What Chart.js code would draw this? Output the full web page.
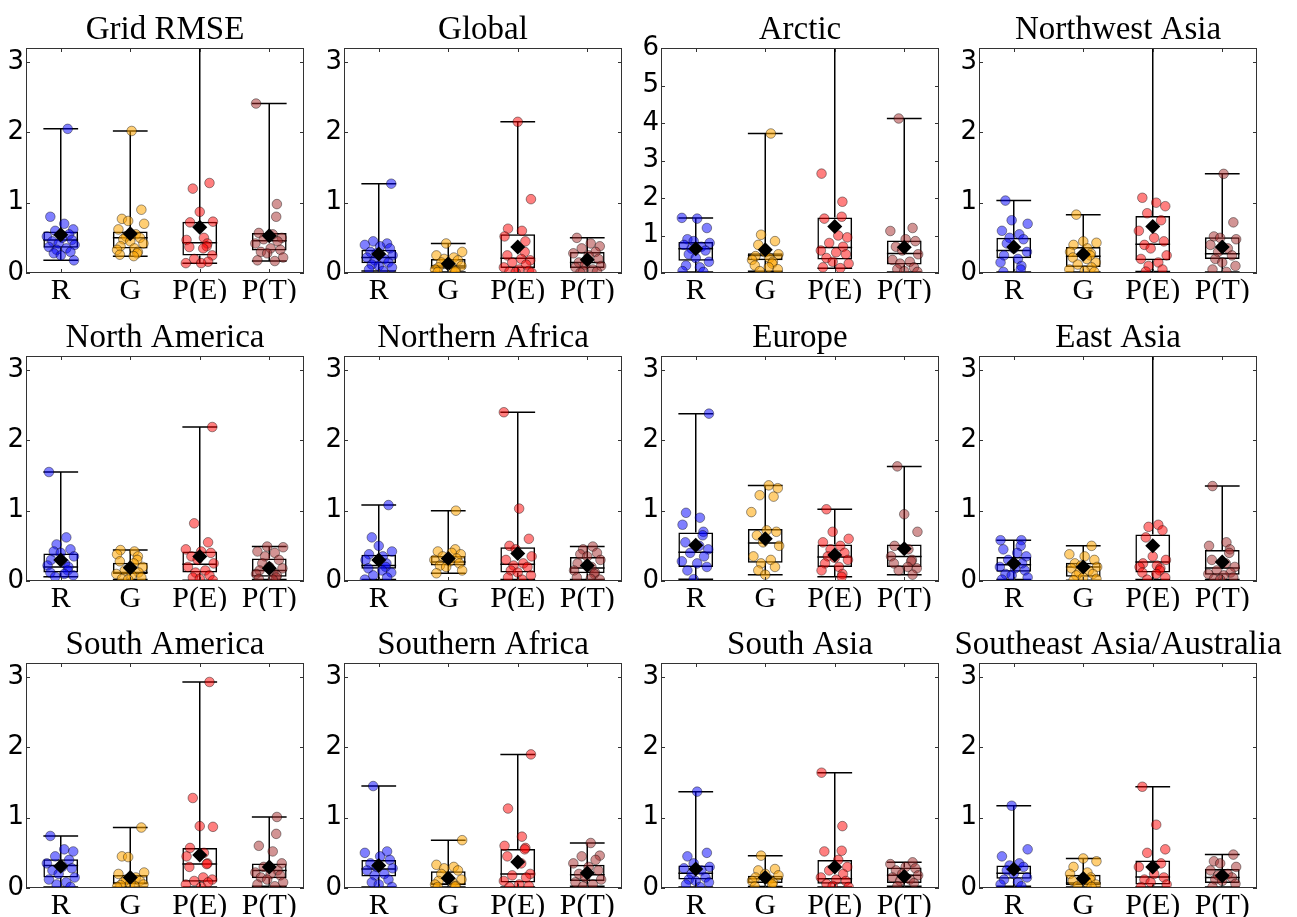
<!DOCTYPE html>
<html>
<head>
<meta charset="utf-8">
<title>Regional RMSE box plots</title>
<script src="https://cdn.jsdelivr.net/npm/chart.js@4/dist/chart.umd.min.js"></script>
<style>
  html, body { margin: 0; padding: 0; background: #fff; overflow: hidden; }
  #grid { position: relative; width: 1297px; height: 917px; }
  #grid canvas { position: absolute; }
</style>
</head>
<body>
<div id="grid"></div>
<script>
// panel titles, group labels and axis ranges
const REGIONS = ['Grid RMSE', 'Global', 'Arctic', 'Northwest Asia',
  'North America', 'Northern Africa', 'Europe', 'East Asia',
  'South America', 'Southern Africa', 'South Asia', 'Southeast Asia/Australia'];
const GROUPS = ['R', 'G', 'P(E)', 'P(T)'];
const Y_MAX = [3.2, 3.2, 6, 3.2, 3.2, 3.2, 3.2, 3.2, 3.2, 3.2, 3.2, 3.2];
const Y_TICKS = [[0, 1, 2, 3], [0, 1, 2, 3], [0, 1, 2, 3, 4, 5, 6], [0, 1, 2, 3],
  [0, 1, 2, 3], [0, 1, 2, 3], [0, 1, 2, 3], [0, 1, 2, 3],
  [0, 1, 2, 3], [0, 1, 2, 3], [0, 1, 2, 3], [0, 1, 2, 3]];

// box statistics per panel, one value per group (R, G, P(E), P(T))
const WHISKER_LO = [[0.18, 0.24, 0.14, 0.17], [0.03, 0.015, 0.005, 0.005], [0.03, 0.05, 0.13, 0.03], [0.015, 0.015, 0.02, 0.015],
  [0.06, 0.02, 0.01, 0.02], [0.02, 0.11, 0.02, 0.02], [0.025, 0.09, 0.06, 0.09], [0.02, 0.01, 0.02, 0.02],
  [0.015, 0.015, 0.015, 0.025], [0.015, 0.015, 0.015, 0.025], [0.015, 0.02, 0.015, 0.025], [0.025, 0.015, 0.015, 0.015]];
const Q1 = [[0.36, 0.35, 0.25, 0.32], [0.14, 0.06, 0.07, 0.07], [0.33, 0.34, 0.36, 0.23], [0.21, 0.085, 0.18, 0.20],
  [0.12, 0.10, 0.12, 0.06], [0.175, 0.22, 0.12, 0.11], [0.20, 0.26, 0.20, 0.20], [0.13, 0.06, 0.12, 0.09],
  [0.15, 0.05, 0.09, 0.14], [0.165, 0.04, 0.08, 0.10], [0.12, 0.07, 0.06, 0.07], [0.13, 0.04, 0.05, 0.07]];
const MEDIAN = [[0.47, 0.50, 0.43, 0.46], [0.22, 0.10, 0.21, 0.15], [0.65, 0.47, 0.68, 0.52], [0.32, 0.24, 0.41, 0.275],
  [0.20, 0.12, 0.24, 0.15], [0.22, 0.27, 0.24, 0.185], [0.41, 0.54, 0.34, 0.35], [0.23, 0.20, 0.27, 0.185],
  [0.32, 0.07, 0.34, 0.25], [0.27, 0.057, 0.20, 0.19], [0.21, 0.13, 0.13, 0.18], [0.21, 0.07, 0.155, 0.15]];
const Q3 = [[0.59, 0.59, 0.73, 0.57], [0.33, 0.20, 0.55, 0.30], [0.83, 0.53, 1.48, 0.87], [0.50, 0.37, 0.81, 0.51],
  [0.39, 0.26, 0.42, 0.32], [0.375, 0.355, 0.48, 0.34], [0.69, 0.74, 0.52, 0.52], [0.34, 0.26, 0.66, 0.44],
  [0.41, 0.185, 0.57, 0.35], [0.40, 0.24, 0.555, 0.33], [0.32, 0.175, 0.40, 0.29], [0.32, 0.19, 0.39, 0.27]];
const WHISKER_HI = [[2.05, 2.02, 4.3, 2.41], [1.27, 0.42, 2.15, 0.5], [1.47, 3.72, 6.9, 4.12], [1.03, 0.83, 3.9, 1.41],
  [1.55, 0.44, 2.19, 0.49], [1.08, 1.0, 2.4, 0.49], [2.38, 1.36, 1.02, 1.63], [0.58, 0.5, 3.6, 1.35],
  [0.74, 0.86, 2.93, 1.01], [1.45, 0.68, 1.9, 0.64], [1.37, 0.46, 1.64, 0.365], [1.17, 0.42, 1.44, 0.475]];
const MEAN = [[0.545, 0.56, 0.65, 0.53], [0.27, 0.13, 0.37, 0.19], [0.65, 0.62, 1.24, 0.69], [0.37, 0.265, 0.66, 0.37],
  [0.30, 0.19, 0.35, 0.18], [0.30, 0.32, 0.39, 0.22], [0.51, 0.60, 0.37, 0.46], [0.25, 0.20, 0.50, 0.27],
  [0.31, 0.15, 0.47, 0.30], [0.32, 0.14, 0.37, 0.215], [0.27, 0.15, 0.30, 0.165], [0.265, 0.135, 0.30, 0.175]];

// individual member values per panel and group
const POINTS = [
  [[2.05, 0.8, 0.7, 0.62, 0.6, 0.55, 0.52, 0.5, 0.47, 0.45, 0.42, 0.4, 0.37, 0.35, 0.33, 0.3, 0.28, 0.25, 0.18],
   [2.02, 0.9, 0.77, 0.74, 0.7, 0.62, 0.55, 0.52, 0.5, 0.48, 0.45, 0.42, 0.38, 0.35, 0.33, 0.3, 0.28, 0.26, 0.24],
   [4.3, 1.28, 1.2, 0.87, 0.73, 0.72, 0.5, 0.47, 0.42, 0.38, 0.37, 0.35, 0.25, 0.2, 0.16, 0.14, 0.14],
   [2.41, 0.98, 0.8, 0.57, 0.55, 0.5, 0.48, 0.45, 0.42, 0.35, 0.33, 0.3, 0.28, 0.22, 0.18, 0.17]],
  [[1.27, 0.45, 0.42, 0.4, 0.38, 0.35, 0.3, 0.28, 0.25, 0.22, 0.2, 0.18, 0.15, 0.12, 0.1, 0.08, 0.05, 0.03],
   [0.42, 0.3, 0.25, 0.22, 0.2, 0.18, 0.15, 0.12, 0.1, 0.08, 0.06, 0.05, 0.03, 0.02, 0.015],
   [2.15, 1.05, 0.63, 0.6, 0.52, 0.45, 0.3, 0.25, 0.2, 0.18, 0.15, 0.12, 0.08, 0.05, 0.03, 0.02, 0.01, 0.005],
   [0.5, 0.42, 0.38, 0.35, 0.3, 0.28, 0.25, 0.2, 0.15, 0.12, 0.1, 0.08, 0.05, 0.03, 0.02, 0.005]],
  [[1.47, 1.45, 1.2, 0.9, 0.85, 0.8, 0.75, 0.7, 0.65, 0.6, 0.5, 0.4, 0.3, 0.2, 0.15, 0.05, 0.03],
   [3.72, 1.02, 0.85, 0.75, 0.55, 0.5, 0.45, 0.4, 0.35, 0.3, 0.25, 0.2, 0.15, 0.1, 0.05],
   [6.9, 2.65, 1.9, 1.5, 1.45, 1.0, 0.95, 0.8, 0.7, 0.6, 0.55, 0.5, 0.4, 0.3, 0.25, 0.15, 0.13],
   [4.12, 1.2, 1.12, 0.9, 0.85, 0.7, 0.6, 0.5, 0.35, 0.3, 0.25, 0.15, 0.1, 0.05, 0.03]],
  [[1.03, 0.75, 0.7, 0.6, 0.55, 0.5, 0.48, 0.42, 0.35, 0.3, 0.25, 0.2, 0.15, 0.1, 0.05, 0.015],
   [0.83, 0.45, 0.43, 0.4, 0.35, 0.3, 0.28, 0.25, 0.22, 0.2, 0.15, 0.12, 0.08, 0.05, 0.03, 0.015],
   [3.9, 1.07, 1.0, 0.95, 0.85, 0.75, 0.6, 0.5, 0.45, 0.4, 0.35, 0.25, 0.2, 0.15, 0.1, 0.05, 0.02],
   [1.41, 0.72, 0.52, 0.5, 0.48, 0.4, 0.35, 0.3, 0.25, 0.2, 0.15, 0.1, 0.05, 0.015]],
  [[1.55, 0.62, 0.52, 0.45, 0.42, 0.4, 0.35, 0.3, 0.25, 0.22, 0.2, 0.15, 0.12, 0.1, 0.08, 0.06],
   [0.44, 0.42, 0.38, 0.35, 0.3, 0.28, 0.25, 0.2, 0.15, 0.12, 0.1, 0.08, 0.05, 0.03, 0.02],
   [2.19, 0.82, 0.55, 0.45, 0.42, 0.4, 0.35, 0.3, 0.25, 0.2, 0.15, 0.12, 0.08, 0.05, 0.03, 0.01],
   [0.49, 0.48, 0.42, 0.4, 0.35, 0.3, 0.25, 0.2, 0.18, 0.15, 0.12, 0.1, 0.08, 0.05, 0.03, 0.02]],
  [[1.08, 0.62, 0.5, 0.42, 0.38, 0.35, 0.3, 0.25, 0.2, 0.18, 0.15, 0.12, 0.08, 0.05, 0.02],
   [1.0, 0.45, 0.42, 0.4, 0.38, 0.35, 0.32, 0.3, 0.28, 0.25, 0.22, 0.2, 0.15, 0.11],
   [2.4, 1.03, 0.6, 0.5, 0.45, 0.35, 0.3, 0.25, 0.22, 0.2, 0.15, 0.12, 0.08, 0.05, 0.02],
   [0.49, 0.45, 0.4, 0.38, 0.35, 0.3, 0.25, 0.2, 0.15, 0.12, 0.1, 0.05, 0.03, 0.02]],
  [[2.38, 0.97, 0.9, 0.8, 0.7, 0.65, 0.55, 0.5, 0.45, 0.4, 0.35, 0.28, 0.25, 0.2, 0.15, 0.025],
   [1.36, 1.32, 1.22, 1.2, 0.98, 0.72, 0.7, 0.65, 0.55, 0.5, 0.35, 0.3, 0.25, 0.2, 0.15, 0.09],
   [1.02, 0.7, 0.6, 0.55, 0.5, 0.45, 0.4, 0.35, 0.33, 0.3, 0.25, 0.2, 0.15, 0.1, 0.06],
   [1.63, 0.95, 0.7, 0.5, 0.45, 0.35, 0.3, 0.28, 0.25, 0.2, 0.18, 0.15, 0.09]],
  [[0.58, 0.58, 0.5, 0.45, 0.4, 0.35, 0.3, 0.25, 0.2, 0.18, 0.15, 0.1, 0.08, 0.05, 0.02],
   [0.5, 0.38, 0.35, 0.3, 0.25, 0.22, 0.2, 0.18, 0.15, 0.12, 0.1, 0.08, 0.05, 0.03, 0.01],
   [3.6, 0.8, 0.77, 0.72, 0.62, 0.35, 0.3, 0.25, 0.22, 0.2, 0.18, 0.15, 0.12, 0.1, 0.05, 0.02],
   [1.35, 0.55, 0.5, 0.45, 0.4, 0.3, 0.25, 0.2, 0.15, 0.12, 0.1, 0.08, 0.05, 0.03, 0.02]],
  [[0.74, 0.55, 0.52, 0.45, 0.4, 0.35, 0.3, 0.28, 0.25, 0.2, 0.15, 0.12, 0.08, 0.05, 0.015],
   [0.86, 0.45, 0.44, 0.22, 0.2, 0.15, 0.12, 0.1, 0.08, 0.06, 0.05, 0.04, 0.03, 0.015],
   [2.93, 1.28, 0.88, 0.87, 0.57, 0.5, 0.45, 0.35, 0.34, 0.3, 0.15, 0.12, 0.1, 0.08, 0.05, 0.015],
   [1.01, 0.77, 0.6, 0.52, 0.35, 0.3, 0.25, 0.22, 0.2, 0.18, 0.15, 0.12, 0.08, 0.05, 0.025]],
  [[1.45, 0.52, 0.5, 0.45, 0.4, 0.35, 0.3, 0.28, 0.25, 0.2, 0.18, 0.12, 0.08, 0.05, 0.015],
   [0.68, 0.33, 0.3, 0.28, 0.25, 0.2, 0.15, 0.12, 0.1, 0.08, 0.05, 0.03, 0.02, 0.015],
   [1.9, 1.13, 0.73, 0.6, 0.57, 0.55, 0.45, 0.35, 0.2, 0.18, 0.15, 0.1, 0.05, 0.03, 0.015],
   [0.64, 0.46, 0.45, 0.4, 0.35, 0.3, 0.25, 0.2, 0.15, 0.12, 0.08, 0.05, 0.025]],
  [[1.37, 0.5, 0.45, 0.35, 0.3, 0.28, 0.25, 0.2, 0.15, 0.12, 0.1, 0.08, 0.05, 0.015],
   [0.46, 0.27, 0.25, 0.2, 0.18, 0.15, 0.12, 0.1, 0.08, 0.05, 0.02],
   [1.64, 0.88, 0.53, 0.52, 0.4, 0.3, 0.25, 0.2, 0.15, 0.12, 0.1, 0.06, 0.03, 0.015],
   [0.365, 0.34, 0.3, 0.28, 0.25, 0.2, 0.18, 0.15, 0.12, 0.1, 0.07, 0.025]],
  [[1.17, 0.55, 0.45, 0.35, 0.32, 0.3, 0.25, 0.2, 0.15, 0.12, 0.08, 0.05, 0.025],
   [0.42, 0.38, 0.3, 0.22, 0.2, 0.15, 0.12, 0.1, 0.08, 0.05, 0.03, 0.015],
   [1.44, 0.9, 0.55, 0.5, 0.35, 0.3, 0.2, 0.15, 0.12, 0.08, 0.05, 0.015],
   [0.475, 0.38, 0.35, 0.3, 0.25, 0.2, 0.18, 0.15, 0.12, 0.1, 0.06, 0.015]]
];

// styling
const GROUP_COLORS = ['rgba(0,0,255,0.5)', 'rgba(255,165,0,0.55)', 'rgba(255,0,0,0.5)', 'rgba(165,42,42,0.5)'];
const JITTER = [0.1, -0.15, 0.05, 0.18, -0.08, 0.12, -0.2, 0.02, 0.16, -0.12, -0.03, 0.2,
  -0.17, 0.08, -0.06, 0.14, -0.1, 0.0, 0.19, -0.14, 0.06, -0.19, 0.11];
const BOX_WIDTH = 0.5;
const PLOT_LEFT = [26, 344, 661, 979];
const PLOT_TOP = [48, 356, 663];
const PLOT_W = 278, PLOT_H = 225;
const SIDE = 30, TITLE_H = 38, XAXIS_H = 30;

// whiskers, caps and median lines, drawn under the points
const boxWhiskers = {
  id: 'boxWhiskers',
  beforeDatasetsDraw(chart, args, opts) {
    const p = opts.panel;
    const { ctx, chartArea: a, scales: { x, y } } = chart;
    ctx.save();
    ctx.beginPath();
    ctx.rect(a.left, a.top, a.right - a.left, a.bottom - a.top);
    ctx.clip();
    ctx.strokeStyle = '#000';
    ctx.lineWidth = 1.5;
    GROUPS.forEach((g, i) => {
      const cx = x.getPixelForValue(i + 1);
      const l = x.getPixelForValue(i + 1 - BOX_WIDTH / 2);
      const r = x.getPixelForValue(i + 1 + BOX_WIDTH / 2);
      const lo = y.getPixelForValue(WHISKER_LO[p][i]);
      const hi = y.getPixelForValue(WHISKER_HI[p][i]);
      const q1 = y.getPixelForValue(Q1[p][i]);
      const q3 = y.getPixelForValue(Q3[p][i]);
      const med = y.getPixelForValue(MEDIAN[p][i]);
      ctx.beginPath();
      ctx.moveTo(cx, q3); ctx.lineTo(cx, hi);
      ctx.moveTo(cx, q1); ctx.lineTo(cx, lo);
      ctx.moveTo(l, hi); ctx.lineTo(r, hi);
      ctx.moveTo(l, lo); ctx.lineTo(r, lo);
      ctx.moveTo(l, med); ctx.lineTo(r, med);
      ctx.stroke();
    });
    ctx.restore();
  }
};

// axes frame with inward tick marks on all four sides
const frame = {
  id: 'frame',
  afterDraw(chart) {
    const { ctx, chartArea: a, scales: { x, y } } = chart;
    const t = 4;
    ctx.save();
    ctx.strokeStyle = '#333';
    ctx.lineWidth = 1;
    ctx.strokeRect(a.left + 0.5, a.top + 0.5, a.right - a.left - 1, a.bottom - a.top - 1);
    ctx.beginPath();
    y.ticks.forEach(tk => {
      const py = Math.round(y.getPixelForValue(tk.value)) + 0.5;
      ctx.moveTo(a.left, py); ctx.lineTo(a.left + t, py);
      ctx.moveTo(a.right, py); ctx.lineTo(a.right - t, py);
    });
    x.ticks.forEach(tk => {
      const px = Math.round(x.getPixelForValue(tk.value)) + 0.5;
      ctx.moveTo(px, a.top); ctx.lineTo(px, a.top + t);
      ctx.moveTo(px, a.bottom); ctx.lineTo(px, a.bottom - t);
    });
    ctx.stroke();
    ctx.restore();
  }
};

const grid = document.getElementById('grid');

REGIONS.forEach((name, p) => {
  const col = p % 4, row = Math.floor(p / 4);
  const canvas = document.createElement('canvas');
  canvas.width = PLOT_W + 2 * SIDE;
  canvas.height = TITLE_H + PLOT_H + XAXIS_H;
  canvas.style.left = (PLOT_LEFT[col] - SIDE) + 'px';
  canvas.style.top = (PLOT_TOP[row] - TITLE_H) + 'px';
  grid.appendChild(canvas);

  const means = {
    type: 'scatter',
    data: MEAN[p].map((v, i) => ({ x: i + 1, y: v })),
    pointStyle: 'rectRot',
    pointRadius: 7.5,
    backgroundColor: '#000',
    borderColor: '#000',
    borderWidth: 0,
    order: 0
  };
  const members = GROUPS.map((g, i) => ({
    type: 'scatter',
    data: POINTS[p][i].map((v, k) => ({
      x: i + 1 + JITTER[(k + i * 7 + p * 3) % JITTER.length],
      y: v
    })),
    pointRadius: 4.8,
    backgroundColor: GROUP_COLORS[i],
    borderColor: 'rgba(0,0,0,0.4)',
    borderWidth: 1,
    order: 1
  }));
  const boxes = {
    type: 'bar',
    data: Q1[p].map((q, i) => ({ x: i + 1, y: [q, Q3[p][i]] })),
    backgroundColor: 'rgba(0,0,0,0)',
    borderColor: '#000',
    borderWidth: 1.5,
    borderSkipped: false,
    categoryPercentage: 1,
    barPercentage: BOX_WIDTH,
    order: 2
  };

  new Chart(canvas.getContext('2d'), {
    type: 'bar',
    data: { datasets: [means, ...members, boxes] },
    options: {
      responsive: false,
      animation: false,
      layout: { padding: 0 },
      plugins: {
        legend: { display: false },
        tooltip: { enabled: false },
        title: {
          display: true,
          text: name,
          color: '#000',
          font: { family: 'Liberation Serif', size: 33, weight: 'normal', lineHeight: 1 },
          padding: { top: 4, bottom: TITLE_H - 37 }
        },
        boxWhiskers: { panel: p }
      },
      scales: {
        x: {
          type: 'linear',
          min: 0.5,
          max: 4.5,
          offset: false,
          grid: { display: false, drawTicks: false },
          border: { display: false },
          afterBuildTicks: s => { s.ticks = GROUPS.map((g, i) => ({ value: i + 1 })); },
          afterFit: s => { s.height = XAXIS_H; },
          ticks: {
            autoSkip: false,
            maxRotation: 0,
            padding: 0,
            color: '#000',
            font: { family: 'Liberation Serif', size: 30 },
            callback: (v, i) => GROUPS[i]
          }
        },
        y: {
          min: 0,
          max: Y_MAX[p],
          grid: { display: false, drawTicks: false },
          border: { display: false },
          afterBuildTicks: s => { s.ticks = Y_TICKS[p].map(v => ({ value: v })); },
          afterFit: s => { s.width = SIDE; },
          ticks: {
            padding: 2,
            color: '#000',
            font: { family: 'DejaVu Sans', size: 26 }
          }
        },
        // empty right-hand axis keeps the plot centred under its title
        yRight: {
          position: 'right',
          min: 0,
          max: 1,
          grid: { display: false, drawTicks: false },
          border: { display: false },
          ticks: { display: false },
          afterFit: s => { s.width = SIDE; }
        }
      }
    },
    plugins: [boxWhiskers, frame]
  });
});
</script>
</body>
</html>
